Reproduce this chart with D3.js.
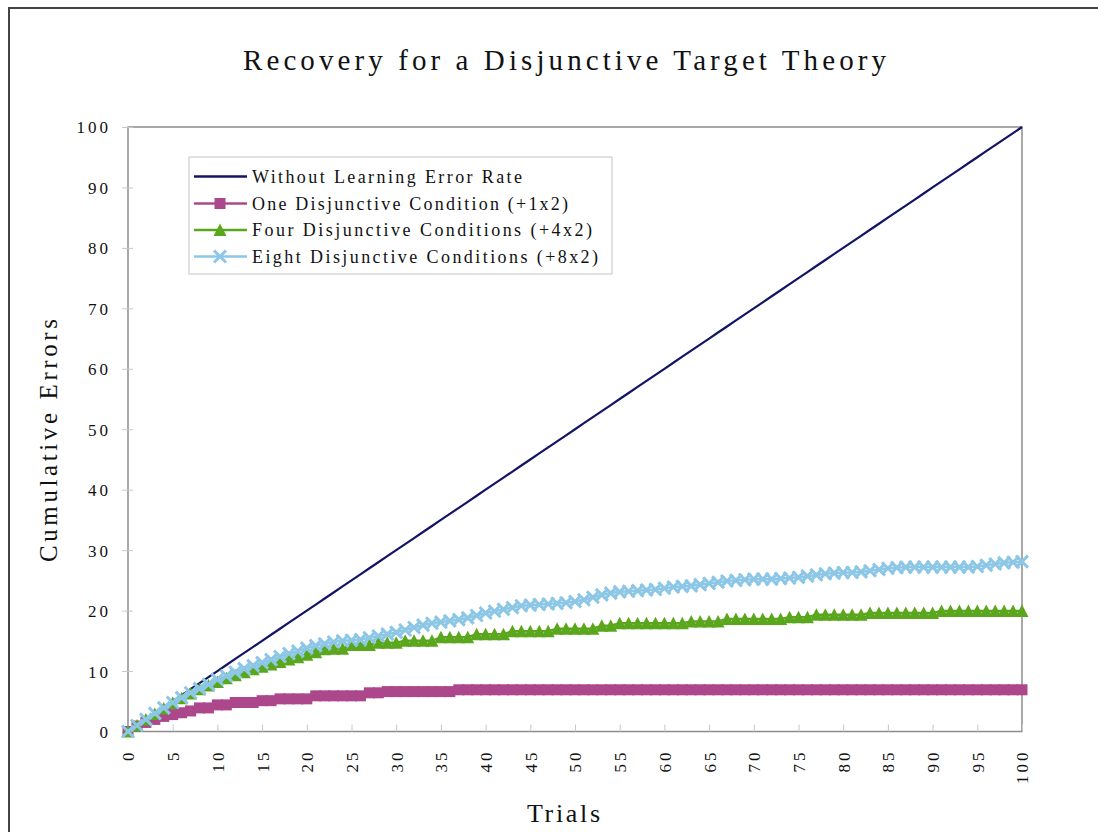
<!DOCTYPE html>
<html>
<head>
<meta charset="utf-8">
<script src="https://cdn.jsdelivr.net/npm/d3@7/dist/d3.min.js"></script>
<style>
  html, body { margin: 0; padding: 0; background: #fff; }
  svg { display: block; }
  text { font-family: "Liberation Serif", "DejaVu Serif", serif; fill: #111; }
</style>
</head>
<body>
<svg id="chart" width="1098" height="832"></svg>
<script>
// Trial numbers (categories along the x axis)
const trials = [
  0,1,2,3,4,5,6,7,8,9,10,11,12,13,14,15,16,17,18,19,20,
  21,22,23,24,25,26,27,28,29,30,31,32,33,34,35,36,37,38,39,40,
  41,42,43,44,45,46,47,48,49,50,51,52,53,54,55,56,57,58,59,60,
  61,62,63,64,65,66,67,68,69,70,71,72,73,74,75,76,77,78,79,80,
  81,82,83,84,85,86,87,88,89,90,91,92,93,94,95,96,97,98,99,100
];

// Cumulative errors without learning (one error per trial)
const withoutLearning = [
  0,1,2,3,4,5,6,7,8,9,10,11,12,13,14,15,16,17,18,19,20,
  21,22,23,24,25,26,27,28,29,30,31,32,33,34,35,36,37,38,39,40,
  41,42,43,44,45,46,47,48,49,50,51,52,53,54,55,56,57,58,59,60,
  61,62,63,64,65,66,67,68,69,70,71,72,73,74,75,76,77,78,79,80,
  81,82,83,84,85,86,87,88,89,90,91,92,93,94,95,96,97,98,99,100
];

// One disjunctive condition (+1x2)
const oneDisjunctive = [
  0,0.9,1.5,2.0,2.5,2.8,3.1,3.4,3.9,3.9,4.4,4.4,4.8,4.8,4.8,5.1,5.1,5.4,5.4,5.4,5.4,
  5.9,5.9,5.9,5.9,5.9,5.9,6.4,6.4,6.6,6.6,6.6,6.6,6.6,6.6,6.6,6.6,6.9,6.9,6.9,6.9,
  6.9,6.9,6.9,6.9,6.9,6.9,6.9,6.9,6.9,6.9,6.9,6.9,6.9,6.9,6.9,6.9,6.9,6.9,6.9,6.9,
  6.9,6.9,6.9,6.9,6.9,6.9,6.9,6.9,6.9,6.9,6.9,6.9,6.9,6.9,6.9,6.9,6.9,6.9,6.9,6.9,
  6.9,6.9,6.9,6.9,6.9,6.9,6.9,6.9,6.9,6.9,6.9,6.9,6.9,6.9,6.9,6.9,6.9,6.9,6.9,6.9
];

// Four disjunctive conditions (+4x2)
const fourDisjunctive = [
  0,1.0,2.0,2.9,3.8,4.7,5.5,6.3,7.0,7.6,8.2,8.8,9.3,9.8,10.3,10.7,11.1,11.5,11.9,12.3,12.7,
  13.1,13.6,13.7,13.7,14.3,14.3,14.3,14.7,14.7,14.7,15.0,15.0,15.0,15.0,15.6,15.6,15.6,15.6,16.1,16.1,
  16.1,16.1,16.6,16.6,16.6,16.6,16.6,17.0,17.0,17.0,17.0,17.0,17.5,17.5,17.9,17.9,17.9,17.9,17.9,17.9,
  17.9,17.9,18.2,18.2,18.2,18.2,18.6,18.6,18.6,18.6,18.6,18.6,18.6,18.9,18.9,18.9,19.3,19.3,19.3,19.3,
  19.3,19.3,19.6,19.6,19.6,19.6,19.6,19.6,19.6,19.6,19.95,19.95,19.95,19.95,19.95,19.95,19.95,19.95,19.95,19.95
];

// Eight disjunctive conditions (+8x2)
const eightDisjunctive = [
  0,1.0,2.0,3.0,3.9,4.8,5.6,6.4,7.1,7.8,8.6,9.2,9.8,10.4,10.9,11.4,11.9,12.4,12.9,13.3,13.8,
  14.2,14.5,14.8,15.0,15.1,15.2,15.5,15.8,16.1,16.4,16.8,17.2,17.6,17.9,18.1,18.3,18.5,18.8,19.2,19.6,
  19.9,20.2,20.5,20.8,20.9,21.0,21.1,21.2,21.3,21.5,21.8,22.2,22.6,22.9,23.1,23.2,23.3,23.4,23.5,23.7,
  23.9,24.0,24.1,24.3,24.5,24.7,24.9,25.0,25.1,25.2,25.2,25.2,25.3,25.4,25.5,25.7,25.9,26.1,26.2,26.3,
  26.3,26.4,26.6,26.8,27.0,27.1,27.2,27.2,27.2,27.2,27.2,27.2,27.2,27.2,27.3,27.5,27.7,27.9,28.0,28.1
];

const seriesNames = [
  "Without Learning Error Rate",
  "One Disjunctive Condition (+1x2)",
  "Four Disjunctive Conditions (+4x2)",
  "Eight Disjunctive Conditions (+8x2)"
];
const seriesColors = ["#141466", "#ad478c", "#5aa61c", "#8dc7e6"];
const seriesMarkers = ["none", "square", "triangle", "cross"];

const xTickValues = [0,5,10,15,20,25,30,35,40,45,50,55,60,65,70,75,80,85,90,95,100];
const yTickValues = [0,10,20,30,40,50,60,70,80,90,100];

const titleText = "Recovery for a Disjunctive Target Theory";
const xTitle = "Trials";
const yTitle = "Cumulative Errors";

const svg = d3.select("#chart");

// outer chart frame (runs off the right and bottom edges)
svg.append("rect")
  .attr("x", 9).attr("y", 8)
  .attr("width", 1110).attr("height", 850)
  .attr("fill", "#fff")
  .attr("stroke", "#444").attr("stroke-width", 2);

const x = d3.scaleLinear().domain([0, 100]).range([128, 1022]);
const y = d3.scaleLinear().domain([0, 100]).range([731.5, 127]);

// plot area border
svg.append("rect")
  .attr("x", x(0)).attr("y", y(100))
  .attr("width", x(100) - x(0)).attr("height", y(0) - y(100))
  .attr("fill", "#fff")
  .attr("stroke", "#8c8c8c").attr("stroke-width", 1.5);

// y axis
const yAxis = svg.append("g")
  .attr("transform", `translate(${x(0)},0)`)
  .call(d3.axisLeft(y).tickValues(yTickValues).tickSize(6).tickFormat(d3.format("d")));
yAxis.select(".domain").remove();
yAxis.selectAll(".tick line").attr("stroke", "#c8c8c8").attr("x2", 5).attr("x1", -6);
yAxis.selectAll(".tick text")
  .attr("x", -17)
  .attr("dy", "0.35em")
  .style("font-family", "'Liberation Serif', serif")
  .style("font-size", "17px")
  .style("letter-spacing", "3px")
  .attr("fill", "#111");

// x axis
const xAxis = svg.append("g")
  .attr("transform", `translate(0,${y(0)})`)
  .call(d3.axisBottom(x).tickValues(xTickValues).tickSizeInner(-7).tickSizeOuter(0).tickFormat(d3.format("d")));
xAxis.select(".domain").remove();
xAxis.selectAll(".tick line").attr("stroke", "#c8c8c8");
xAxis.selectAll(".tick text")
  .attr("transform", "rotate(-90)")
  .attr("text-anchor", "end")
  .attr("x", -18)
  .attr("y", 0)
  .attr("dy", "0.35em")
  .style("font-family", "'Liberation Serif', serif")
  .style("font-size", "17px")
  .style("letter-spacing", "3px")
  .attr("fill", "#111");

// series data
const allSeries = [withoutLearning, oneDisjunctive, fourDisjunctive, eightDisjunctive].map((vals, i) => ({
  name: seriesNames[i],
  color: seriesColors[i],
  marker: seriesMarkers[i],
  points: trials.map((t, j) => ({ t: t, v: vals[j] }))
}));

const line = d3.line().x(d => x(d.t)).y(d => y(d.v));

function drawMarker(sel, kind, color) {
  if (kind === "square") {
    sel.append("rect")
      .attr("x", -5.5).attr("y", -5.5).attr("width", 11).attr("height", 11)
      .attr("fill", color);
  } else if (kind === "triangle") {
    sel.append("path")
      .attr("d", "M0,-6.5L6.5,6L-6.5,6Z")
      .attr("fill", color);
  } else if (kind === "cross") {
    sel.append("path")
      .attr("d", "M-6,-6L6,6M-6,6L6,-6")
      .attr("stroke", color).attr("stroke-width", 3).attr("fill", "none");
  }
}

const plot = svg.append("g");
allSeries.forEach(s => {
  plot.append("path")
    .datum(s.points)
    .attr("d", line)
    .attr("fill", "none")
    .attr("stroke", s.color)
    .attr("stroke-width", s.marker === "none" ? 2.2 : 2.5);
  if (s.marker !== "none") {
    const g = plot.append("g");
    g.selectAll("g.m")
      .data(s.points)
      .join("g")
      .attr("class", "m")
      .attr("transform", d => `translate(${x(d.t)},${y(d.v)})`)
      .each(function () { drawMarker(d3.select(this), s.marker, s.color); });
  }
});

// legend
const legend = svg.append("g");
legend.append("rect")
  .attr("x", 189).attr("y", 157).attr("width", 423).attr("height", 117)
  .attr("fill", "#fff").attr("stroke", "#c4c4c4").attr("stroke-width", 1);
const legendRowY = [176.5, 203.5, 230, 256.5];
const legendTextLen = [270, 316, 340, 346];
allSeries.forEach((s, i) => {
  const row = legend.append("g").attr("transform", `translate(0,${legendRowY[i]})`);
  row.append("line")
    .attr("x1", 194).attr("x2", 247).attr("y1", 0).attr("y2", 0)
    .attr("stroke", s.color).attr("stroke-width", 2.5);
  if (s.marker !== "none") {
    const m = row.append("g").attr("transform", "translate(220,0)");
    drawMarker(m, s.marker, s.color);
  }
  row.append("text")
    .attr("x", 252).attr("y", 0).attr("dy", "0.35em")
    .attr("textLength", legendTextLen[i]).attr("lengthAdjust", "spacing")
    .style("font-size", "18px")
    .text(s.name);
});

// titles
svg.append("text")
  .attr("x", 243).attr("y", 70)
  .attr("textLength", 643).attr("lengthAdjust", "spacing")
  .style("font-size", "29px")
  .text(titleText);

svg.append("text")
  .attr("x", 527).attr("y", 822)
  .attr("textLength", 73).attr("lengthAdjust", "spacing")
  .style("font-size", "26px")
  .text(xTitle);

svg.append("text")
  .attr("transform", "translate(57,562) rotate(-90)")
  .attr("x", 0).attr("y", 0)
  .attr("textLength", 243).attr("lengthAdjust", "spacing")
  .style("font-size", "25px")
  .text(yTitle);
</script>
</body>
</html>
